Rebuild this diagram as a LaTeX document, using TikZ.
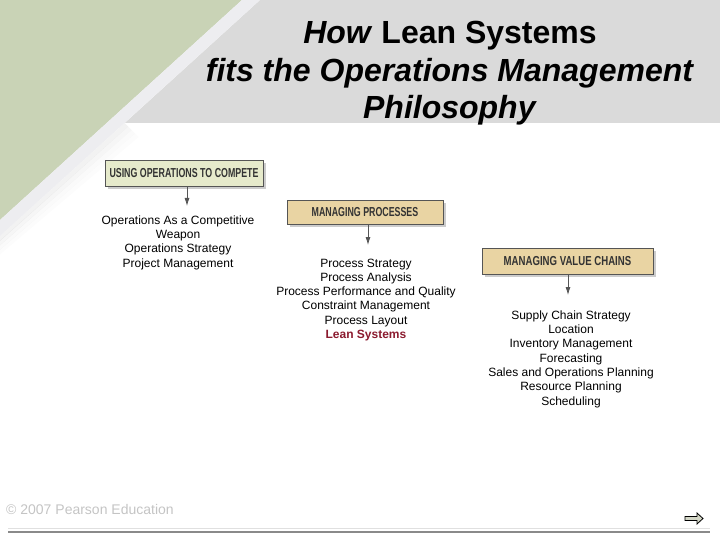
\documentclass[tikz,border=0pt]{standalone}
\usepackage{fontspec}
\setmainfont{Liberation Sans}
\usepackage{graphicx}
\usetikzlibrary{arrows.meta,shadows}

\definecolor{sagegreen}{HTML}{C9D3B6}
\definecolor{bandgray}{HTML}{DADADA}
\definecolor{stripegray}{HTML}{EDEDF0}
\definecolor{boxgreen}{HTML}{E6EACB}
\definecolor{boxtan}{HTML}{E9D4A3}
\definecolor{edgegray}{HTML}{555555}
\definecolor{leanred}{HTML}{8B1A2E}
\definecolor{footgray}{HTML}{C4C4C4}
\definecolor{rulegray}{HTML}{8A8A8A}
\definecolor{nextfill}{HTML}{D3D6C6}

\tikzset{
  stage/.style={draw=edgegray, line width=0.8pt, minimum height=26pt, inner sep=0pt,
    text=black!80, font=\fontsize{13}{15}\selectfont\bfseries,
    drop shadow={shadow xshift=3pt, shadow yshift=-3pt, fill=black, opacity=0.2}},
  topics/.style={anchor=north, align=center, inner sep=0pt, font=\fontsize{12}{14.3}\selectfont},
  feed/.style={draw=edgegray, line width=0.8pt, -{Latex[length=8pt,width=5pt]}},
}
\newcommand{\stagetext}[2][0.68]{\scalebox{#1}[1]{#2}}

\begin{document}
\begin{tikzpicture}[x=1pt,y=-1pt]
\useasboundingbox (0,0) rectangle (720,540);

% backdrop
\fill[bandgray] (260,0) -- (720,0) -- (720,123) -- (124.7,123) -- cycle;
\fill[sagegreen] (0,0) -- (242,0) -- (0,220) -- cycle;
\foreach \o/\a in {0/0.05,5/0.035,10/0.02,15/0.01}
  \fill[black, opacity=\a] (124.7+0.7*\o,123+0.7*\o) -- (0,236+0.9*\o) -- (0,241+0.9*\o) -- (124.7+0.7*\o+3.5,123+0.7*\o+3.5) -- cycle;
\fill[stripegray] (242,0) -- (260,0) -- (0,236) -- (0,220) -- cycle;

% title
\node[anchor=north, align=center, font=\fontsize{32}{37.5}\selectfont\bfseries] (title) at (450,18)
  {\textit{How} Lean Systems\\ \textit{fits the Operations Management}\\ \textit{Philosophy}};

% stages
\node[stage, fill=boxgreen, minimum width=158pt] (compete) at (184,173.5) {\stagetext{USING OPERATIONS TO COMPETE}};
\node[stage, fill=boxtan, minimum width=156pt, minimum height=24pt] (processes) at (365,212) {\stagetext{MANAGING PROCESSES}};
\node[stage, fill=boxtan, minimum width=171pt] (chains) at (567.5,261) {\stagetext[0.74]{MANAGING VALUE CHAINS}};

\coordinate (c1) at (187,206);
\coordinate (c2) at (368,245);
\coordinate (c3) at (568,295);

\path[feed] ([xshift=3pt]compete.south) -- (c1);
\path[feed] ([xshift=3pt]processes.south) -- (c2);
\path[feed] ([xshift=0.5pt]chains.south) -- (c3);

% topic lists
\node[topics] (competelist) at (178,215.5)
  {Operations As a Competitive\\Weapon\\Operations Strategy\\Project Management};
\node[topics] (processlist) at (366,258.5)
  {Process Strategy\\Process Analysis\\Process Performance and Quality\\Constraint Management\\Process Layout\\{\color{leanred}\bfseries Lean Systems}};
\node[topics] (chainlist) at (571,310.5)
  {Supply Chain Strategy\\Location\\Inventory Management\\Forecasting\\Sales and Operations Planning\\Resource Planning\\Scheduling};

% footer
\node[anchor=west, inner sep=0pt, text=footgray, font=\fontsize{14}{16}\selectfont] (credit) at (6,509) {© 2007 Pearson Education};
\draw[black!12, line width=0.8pt] (8,528.5) -- (710,528.5);
\draw[rulegray, line width=2pt] (8,532) -- (710,532);
\filldraw[fill=nextfill, draw=black, line width=0.8pt] (685,516.5) -- (697,516.5) -- (697,513) -- (703,518.5)
  -- (697,524) -- (697,520.5) -- (685,520.5) -- cycle;
\end{tikzpicture}
\end{document}
